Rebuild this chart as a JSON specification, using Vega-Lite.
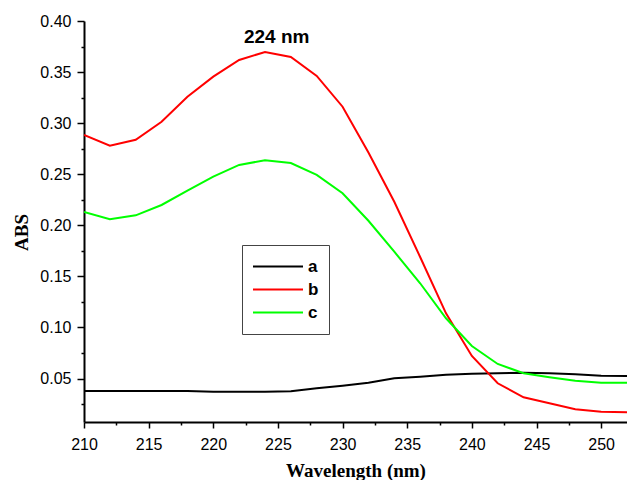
{
  "$schema": "https://vega.github.io/schema/vega-lite/v6.json",
  "width": 543,
  "height": 401,
  "autosize": "none",
  "padding": {"left": 84, "top": 21, "right": 0, "bottom": 58},
  "background": "white",
  "config": {"view": {"stroke": null}},
  "datasets": {
    "spectra": [
      {"wl": 210, "abs": 0.0379, "s": "a"}, {"wl": 212, "abs": 0.0379, "s": "a"}, {"wl": 214, "abs": 0.0379, "s": "a"}, {"wl": 216, "abs": 0.0379, "s": "a"}, {"wl": 218, "abs": 0.0379, "s": "a"}, {"wl": 220, "abs": 0.0371, "s": "a"}, {"wl": 222, "abs": 0.0370, "s": "a"}, {"wl": 224, "abs": 0.0370, "s": "a"}, {"wl": 226, "abs": 0.0376, "s": "a"}, {"wl": 228, "abs": 0.0405, "s": "a"}, {"wl": 230, "abs": 0.0430, "s": "a"}, {"wl": 232, "abs": 0.0460, "s": "a"}, {"wl": 234, "abs": 0.0503, "s": "a"}, {"wl": 236, "abs": 0.0519, "s": "a"}, {"wl": 238, "abs": 0.0538, "s": "a"}, {"wl": 240, "abs": 0.0548, "s": "a"}, {"wl": 242, "abs": 0.0552, "s": "a"}, {"wl": 244, "abs": 0.0558, "s": "a"}, {"wl": 246, "abs": 0.0552, "s": "a"}, {"wl": 248, "abs": 0.0542, "s": "a"}, {"wl": 250, "abs": 0.0528, "s": "a"}, {"wl": 252, "abs": 0.0525, "s": "a"},
      {"wl": 210, "abs": 0.2884, "s": "b"}, {"wl": 212, "abs": 0.2779, "s": "b"}, {"wl": 214, "abs": 0.2838, "s": "b"}, {"wl": 216, "abs": 0.3014, "s": "b"}, {"wl": 218, "abs": 0.3259, "s": "b"}, {"wl": 220, "abs": 0.3455, "s": "b"}, {"wl": 222, "abs": 0.3618, "s": "b"}, {"wl": 224, "abs": 0.3697, "s": "b"}, {"wl": 226, "abs": 0.3648, "s": "b"}, {"wl": 228, "abs": 0.3462, "s": "b"}, {"wl": 230, "abs": 0.3161, "s": "b"}, {"wl": 232, "abs": 0.2712, "s": "b"}, {"wl": 234, "abs": 0.2231, "s": "b"}, {"wl": 236, "abs": 0.1690, "s": "b"}, {"wl": 238, "abs": 0.1139, "s": "b"}, {"wl": 240, "abs": 0.0721, "s": "b"}, {"wl": 242, "abs": 0.0454, "s": "b"}, {"wl": 244, "abs": 0.0317, "s": "b"}, {"wl": 246, "abs": 0.0258, "s": "b"}, {"wl": 248, "abs": 0.0199, "s": "b"}, {"wl": 250, "abs": 0.0176, "s": "b"}, {"wl": 252, "abs": 0.0170, "s": "b"},
      {"wl": 210, "abs": 0.2131, "s": "c"}, {"wl": 212, "abs": 0.2059, "s": "c"}, {"wl": 214, "abs": 0.2098, "s": "c"}, {"wl": 216, "abs": 0.2199, "s": "c"}, {"wl": 218, "abs": 0.2339, "s": "c"}, {"wl": 220, "abs": 0.2476, "s": "c"}, {"wl": 222, "abs": 0.2591, "s": "c"}, {"wl": 224, "abs": 0.2637, "s": "c"}, {"wl": 226, "abs": 0.2610, "s": "c"}, {"wl": 228, "abs": 0.2493, "s": "c"}, {"wl": 230, "abs": 0.2314, "s": "c"}, {"wl": 232, "abs": 0.2045, "s": "c"}, {"wl": 234, "abs": 0.1742, "s": "c"}, {"wl": 236, "abs": 0.1433, "s": "c"}, {"wl": 238, "abs": 0.1090, "s": "c"}, {"wl": 240, "abs": 0.0819, "s": "c"}, {"wl": 242, "abs": 0.0643, "s": "c"}, {"wl": 244, "abs": 0.0552, "s": "c"}, {"wl": 246, "abs": 0.0513, "s": "c"}, {"wl": 248, "abs": 0.0479, "s": "c"}, {"wl": 250, "abs": 0.0460, "s": "c"}, {"wl": 252, "abs": 0.0460, "s": "c"}
    ],
    "note": [{"wl": 224.9, "abs": 0.378, "label": "224 nm"}]
  },
  "layer": [
    {
      "data": {"name": "spectra"},
      "mark": {"type": "line", "strokeWidth": 2, "clip": true},
      "encoding": {
        "x": {
          "field": "wl", "type": "quantitative",
          "scale": {"domain": [210, 252], "nice": false, "zero": false},
          "axis": {
            "title": "Wavelength (nm)",
            "titleFont": "Liberation Serif", "titleFontSize": 19, "titleFontWeight": "bold", "titleColor": "#000",
            "titleY": 39, "titleBaseline": "top",
            "values": [210, 212.5, 215, 217.5, 220, 222.5, 225, 227.5, 230, 232.5, 235, 237.5, 240, 242.5, 245, 247.5, 250],
            "tickCount": 100,
            "labelExpr": "datum.value % 5 === 0 ? format(datum.value, 'd') : ''",
            "labelFont": "Liberation Sans", "labelFontSize": 16, "labelColor": "#000", "labelPadding": 8,
            "labelFlush": false, "labelOverlap": false,
            "grid": false, "domainColor": "#000", "domainWidth": 2,
            "tickColor": "#000", "tickWidth": 1.5,
            "tickSize": {"condition": {"test": "datum.value % 5 === 0", "value": 6}, "value": 3}
          }
        },
        "y": {
          "field": "abs", "type": "quantitative",
          "scale": {"domain": [0.0075, 0.4], "nice": false, "zero": false},
          "axis": {
            "title": "ABS",
            "titleFont": "Liberation Serif", "titleFontSize": 19, "titleFontWeight": "bold", "titleColor": "#000",
            "titleX": -57, "titleY": 211, "titleBaseline": "alphabetic", "titleAlign": "center", "titleAngle": -90,
            "values": [0.025, 0.05, 0.075, 0.1, 0.125, 0.15, 0.175, 0.2, 0.225, 0.25, 0.275, 0.3, 0.325, 0.35, 0.375, 0.4],
            "tickCount": 100,
            "labelExpr": "abs(datum.value * 20 - round(datum.value * 20)) < 0.001 ? format(datum.value, '.2f') : ''",
            "labelFont": "Liberation Sans", "labelFontSize": 16, "labelColor": "#000", "labelPadding": 6,
            "labelFlush": false, "labelOverlap": false,
            "grid": false, "domainColor": "#000", "domainWidth": 2,
            "tickColor": "#000", "tickWidth": 1.5,
            "tickSize": {"condition": {"test": "abs(datum.value * 20 - round(datum.value * 20)) < 0.001", "value": 7}, "value": 3}
          }
        },
        "color": {
          "field": "s", "type": "nominal",
          "scale": {"domain": ["a", "b", "c"], "range": ["#000000", "#ff0000", "#00ff00"]},
          "legend": {
            "title": null, "orient": "none", "legendX": 158, "legendY": 224,
            "symbolType": "stroke", "symbolSize": 2500, "symbolStrokeWidth": 2,
            "clipHeight": 23,
            "labelFont": "Liberation Sans", "labelFontSize": 17, "labelFontWeight": "bold", "labelColor": "#000",
            "labelOffset": 4, "rowPadding": 0,
            "strokeColor": "#444", "padding": 10, "fillColor": "white"
          }
        }
      }
    },
    {
      "data": {"name": "note"},
      "mark": {"type": "text", "font": "Liberation Sans", "fontSize": 19, "fontWeight": "bold", "align": "center", "baseline": "alphabetic", "color": "#000"},
      "encoding": {
        "x": {"field": "wl", "type": "quantitative"},
        "y": {"field": "abs", "type": "quantitative"},
        "text": {"field": "label"}
      }
    }
  ]
}
